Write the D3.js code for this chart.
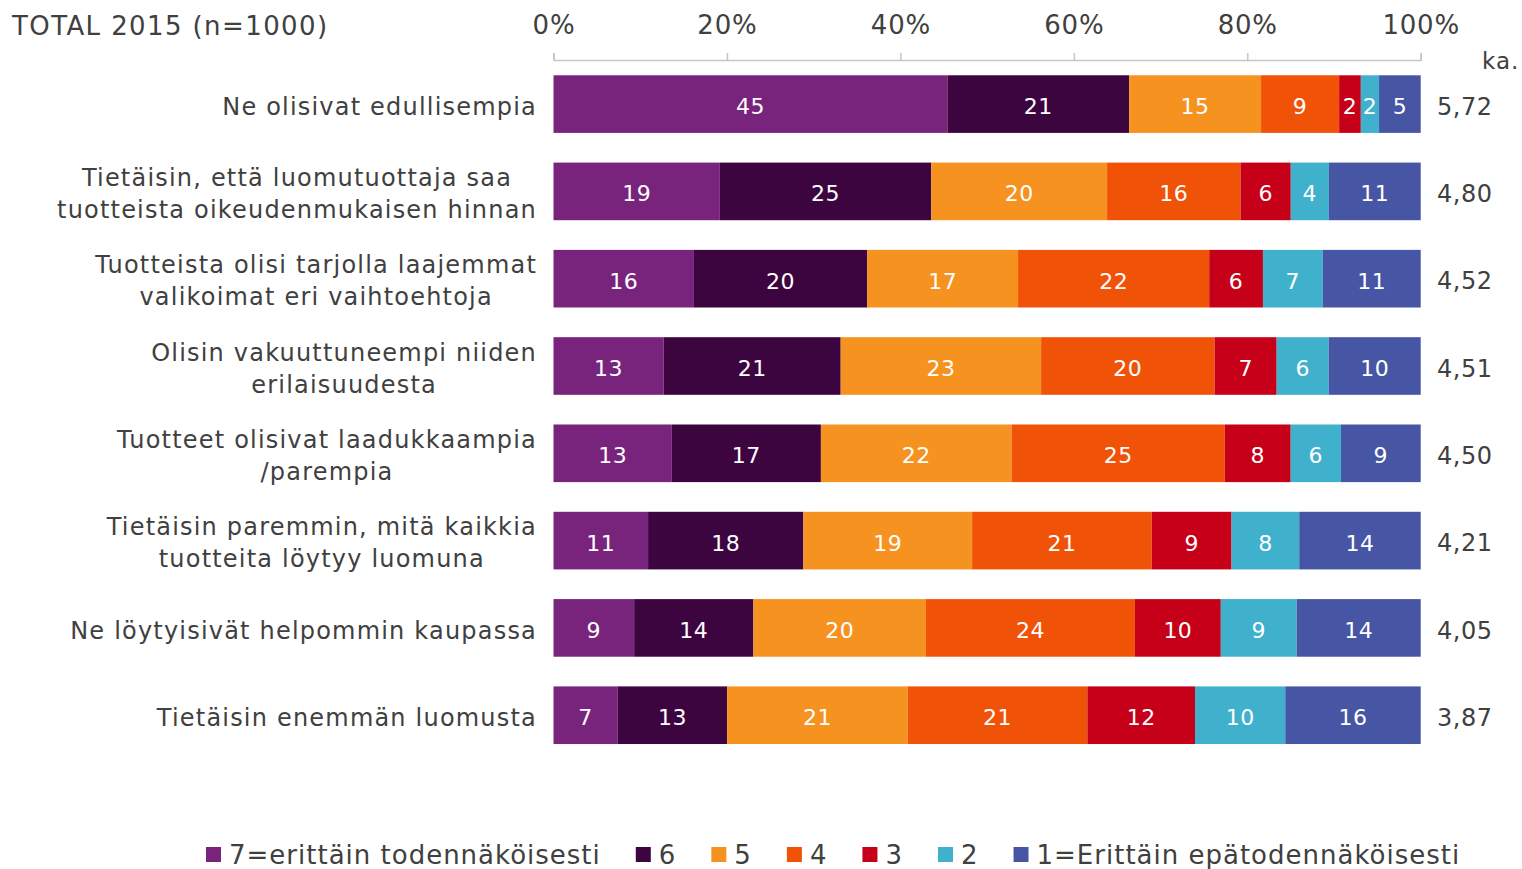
<!DOCTYPE html>
<html>
<head>
<meta charset="utf-8">
<script src="https://cdn.jsdelivr.net/npm/d3@7"></script>
<style>
  body { margin: 0; background: #fff; }
  text { font-family: "DejaVu Sans", Verdana, sans-serif; fill: #404040; }
</style>
</head>
<body>
<div id="chart"></div>
<script>
// question rows, top to bottom
const categories = [
  "Ne olisivat edullisempia",
  "Tietäisin, että luomutuottaja saa\ntuotteista oikeudenmukaisen hinnan",
  "Tuotteista olisi tarjolla laajemmat\nvalikoimat eri vaihtoehtoja",
  "Olisin vakuuttuneempi niiden\nerilaisuudesta",
  "Tuotteet olisivat laadukkaampia\n/parempia",
  "Tietäisin paremmin, mitä kaikkia\ntuotteita löytyy luomuna",
  "Ne löytyisivät helpommin kaupassa",
  "Tietäisin enemmän luomusta"
]

// answer scale, 7 -> 1
const levels = ["7=erittäin todennäköisesti", "6", "5", "4", "3", "2", "1=Erittäin epätodennäköisesti"]
const colors = ["#78237c", "#3d0540", "#f6921f", "#f05208", "#c7001a", "#40b1cd", "#4755a5"]

// printed percentages in the bars
const values = [
  [45, 21, 15, 9, 2, 2, 5],
  [19, 25, 20, 16, 6, 4, 11],
  [16, 20, 17, 22, 6, 7, 11],
  [13, 21, 23, 20, 7, 6, 10],
  [13, 17, 22, 25, 8, 6, 9],
  [11, 18, 19, 21, 9, 8, 14],
  [9, 14, 20, 24, 10, 9, 14],
  [7, 13, 21, 21, 12, 10, 16]
]

// segment widths as drawn (unrounded shares)
const shares = [
  [45.4, 20.95, 15.2, 9.0, 2.5, 2.1, 4.8],
  [19.2, 24.4, 20.3, 15.4, 5.8, 4.4, 10.6],
  [16.2, 20.0, 17.4, 22.05, 6.2, 6.9, 11.3],
  [12.7, 20.4, 23.1, 20.0, 7.15, 6.0, 10.6],
  [13.65, 17.2, 22.0, 24.6, 7.6, 5.8, 9.2],
  [10.9, 17.9, 19.45, 20.7, 9.2, 7.8, 14.0],
  [9.3, 13.75, 19.9, 24.1, 9.9, 8.75, 14.3],
  [7.4, 12.6, 20.8, 20.7, 12.4, 10.4, 15.6]
]

// mean (ka.)
const means = ["5,72", "4,80", "4,52", "4,51", "4,50", "4,21", "4,05", "3,87"]

const tickValues = [0, 0.2, 0.4, 0.6, 0.8, 1]

let width = 1522,
  height = 869

let svg = d3.select("#chart").append("svg")
  .attr("width", width)
  .attr("height", height)

let x = d3.scaleLinear()
  .domain([0, 1])
  .range([553.5, 1420.7])

let y = d3.scaleBand()
  .domain(d3.range(categories.length))
  .range([60, 759.3])
  .paddingInner(0.34)
  .paddingOuter(0.175)

let rows = shares.map(function (s, i) {
  let r = { row: i }
  s.forEach(function (v, k) { r["k" + k] = v })
  return r
})

let stack = d3.stack()
  .keys(levels.map(function (d, k) { return "k" + k }))
  .offset(d3.stackOffsetExpand)

let layers = stack(rows)

// axis on top
let axis = svg.append("g")
  .attr("transform", "translate(0,60)")
  .call(d3.axisTop(x).tickValues(tickValues).tickFormat(d3.format(".0%"))
    .tickSize(7).tickSizeOuter(7).tickPadding(19))
axis.selectAll("path, line").attr("stroke", "#c6c6c6").attr("stroke-width", 1.5)
axis.selectAll("text")
  .style("font-family", "'DejaVu Sans', Verdana, sans-serif")
  .style("font-size", "26px")
  .attr("fill", "#404040")
  .attr("letter-spacing", "0.8px")

svg.append("text")
  .attr("x", 12)
  .attr("y", 35)
  .attr("font-size", 26)
  .attr("letter-spacing", "1.4px")
  .text("TOTAL 2015 (n=1000)")

svg.append("text")
  .attr("x", 1482)
  .attr("y", 69)
  .attr("font-size", 23)
  .attr("letter-spacing", "1px")
  .text("ka.")

// bars
let layer = svg.selectAll("g.layer")
  .data(layers)
  .enter().append("g")
  .attr("class", "layer")

layer.selectAll("rect")
  .data(function (d, k) { return d.map(function (p) { return { p: p, k: k } }) })
  .enter().append("rect")
  .attr("x", function (d) { return x(d.p[0]) })
  .attr("width", function (d) { return x(d.p[1]) - x(d.p[0]) })
  .attr("y", function (d) { return y(d.p.data.row) })
  .attr("height", y.bandwidth())
  .attr("fill", function (d) { return colors[d.k] })

layer.selectAll("text")
  .data(function (d, k) { return d.map(function (p) { return { p: p, k: k } }) })
  .enter().append("text")
  .attr("x", function (d) { return (x(d.p[0]) + x(d.p[1])) / 2 })
  .attr("y", function (d) { return y(d.p.data.row) + y.bandwidth() / 2 + 2 })
  .attr("dy", "0.36em")
  .attr("text-anchor", "middle")
  .attr("font-size", 22)
  .attr("letter-spacing", "0.5px")
  .style("fill", "#fff")
  .text(function (d) { return values[d.p.data.row][d.k] })

// category labels: block right-aligned, lines centred within the block
categories.forEach(function (c, i) {
  let lines = c.split("\n")
  let cy = y(i) + y.bandwidth() / 2 + 2
  let t = svg.append("text")
    .attr("text-anchor", "middle")
    .attr("font-size", 24)
    .attr("letter-spacing", "1.2px")
  let spans = lines.map(function (l, j) {
    return t.append("tspan")
      .attr("y", cy + (j - (lines.length - 1) / 2) * 32)
      .attr("dy", "0.36em")
      .text(l)
  })
  let w = d3.max(spans, function (s) { return s.node().getComputedTextLength() })
  spans.forEach(function (s) { s.attr("x", 537 - w / 2) })
})

// means
svg.selectAll("text.mean")
  .data(means)
  .enter().append("text")
  .attr("class", "mean")
  .attr("x", 1437)
  .attr("y", function (d, i) { return y(i) + y.bandwidth() / 2 + 2 })
  .attr("dy", "0.36em")
  .attr("font-size", 24)
  .attr("letter-spacing", "0.5px")
  .text(function (d) { return d })

// legend
let lx = 206
let legend = svg.append("g")
levels.forEach(function (l, k) {
  legend.append("rect")
    .attr("x", lx)
    .attr("y", 847)
    .attr("width", 15)
    .attr("height", 15)
    .attr("fill", colors[k])
  let t = legend.append("text")
    .attr("x", lx + 23)
    .attr("y", 864)
    .attr("font-size", 26)
    .attr("letter-spacing", "1px")
    .text(l)
  lx += 23 + t.node().getComputedTextLength() + 35
})
</script>
</body>
</html>
